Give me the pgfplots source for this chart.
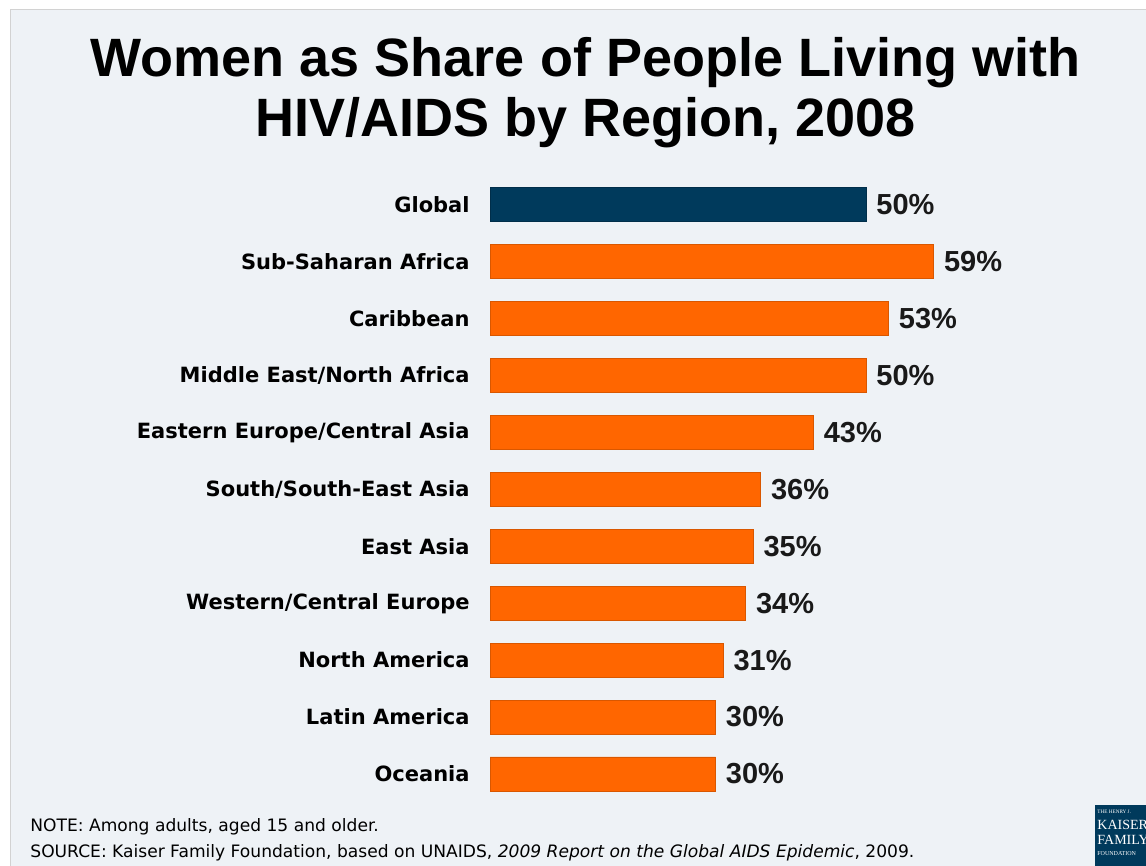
\documentclass[border=0pt]{standalone}
\usepackage{fontspec}
\setmainfont{Liberation Sans}
\newfontfamily\tah{DejaVu Sans}
\newfontfamily\kserif{Liberation Serif}
\usepackage{pgfplots}
\pgfplotsset{compat=1.18}
\definecolor{bg}{HTML}{EEF2F6}
\definecolor{navy}{HTML}{003A5C}
\definecolor{kff}{HTML}{FF6600}
\begin{document}
\begin{tikzpicture}
\useasboundingbox (0pt,0pt) rectangle (573pt,433pt);
\fill[white] (0pt,0pt) rectangle (573pt,433pt);
\fill[bg] (5pt,0pt) rectangle (573pt,428pt);
\draw[gray!35, line width=0.5pt] (5pt,0pt) -- (5pt,428pt) -- (573pt,428pt);
\node[font=\bfseries\fontsize{27}{30}\selectfont, anchor=base] at (292.75pt,394.5pt) {Women as Share of People Living with};
\node[font=\bfseries\fontsize{27}{30}\selectfont, anchor=base] at (292.75pt,364.5pt) {HIV/AIDS by Region, 2008};
\node[font=\tah\fontsize{8.55}{10}\selectfont, anchor=base west, inner sep=0pt] at (15pt,17pt) {NOTE: Among adults, aged 15 and older.};
\node[font=\tah\fontsize{8.55}{10}\selectfont, anchor=base west, inner sep=0pt] at (15pt,4pt) {SOURCE: Kaiser Family Foundation, based on UNAIDS, \textit{2009 Report on the Global AIDS Epidemic}, 2009.};
\begin{scope}
\clip (547.5pt,0pt) rectangle (573pt,30.5pt);
\fill[navy] (547.5pt,0pt) rectangle (573pt,30.5pt);
\node[text=white, font=\kserif\fontsize{2.6}{3}\selectfont, anchor=base west, inner sep=0pt] at (548.5pt,26pt) {THE HENRY J.};
\node[text=white, font=\kserif\fontsize{7}{8}\selectfont, anchor=base west, inner sep=0pt] at (548.5pt,18pt) {KAISER};
\node[text=white, font=\kserif\fontsize{7}{8}\selectfont, anchor=base west, inner sep=0pt] at (548.5pt,10.5pt) {FAMILY};
\node[text=white, font=\kserif\fontsize{3}{3}\selectfont, anchor=base west, inner sep=0pt] at (548.5pt,5pt) {FOUNDATION};
\end{scope}
\begin{axis}[
  at={(245pt,31.8pt)}, anchor=south west,
  scale only axis, width=225.6pt, height=313pt,
  xmin=0, xmax=60, ymin=-0.5, ymax=10.5,
  y dir=reverse, xbar, bar width=17pt, bar shift=0pt,
  clip=false,
  axis line style={draw=none},
  major tick length=0pt,
  xtick=\empty,
  ytick={0,1,2,3,4,5,6,7,8,9,10},
  yticklabels={Global, Sub-Saharan Africa, Caribbean, Middle East/North Africa, Eastern Europe/Central Asia, South/South-East Asia, East Asia, Western/Central Europe, North America, Latin America, Oceania},
  yticklabel style={font=\tah\bfseries\fontsize{10.5}{12}\selectfont, inner sep=0pt, xshift=-10pt},
  point meta=x,
  /pgf/number format/assume math mode=true,
  nodes near coords={\pgfmathprintnumber{\pgfplotspointmeta}\%},
  nodes near coords style={font=\bfseries\fontsize{14.5}{16}\selectfont, anchor=west, inner sep=0pt, xshift=5pt, text=black!90},
]
\addplot[fill=navy, draw=navy!80!black, line width=0.4pt] coordinates {(50,0)};
\addplot[fill=kff, draw=kff!85!black, line width=0.4pt] coordinates {
(59,1) (53,2) (50,3) (43,4) (36,5) (35,6) (34,7) (31,8) (30,9) (30,10)};
\end{axis}
\end{tikzpicture}
\end{document}
